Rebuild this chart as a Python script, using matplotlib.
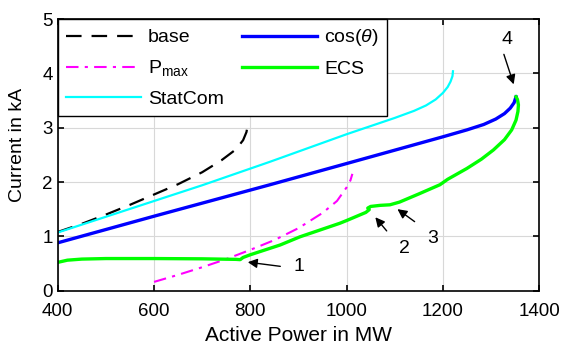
import numpy as np
import matplotlib
matplotlib.use("Agg")
import matplotlib.pyplot as plt

plt.rcParams['font.family'] = ['Liberation Sans', 'DejaVu Sans']
plt.rcParams['mathtext.fontset'] = 'custom'
plt.rcParams['mathtext.rm'] = 'Liberation Sans'
plt.rcParams['mathtext.it'] = 'Liberation Sans:italic'

# curves (P in MW, I in kA)
base_p = [400, 450, 500, 550, 600, 650, 700, 740, 770, 785, 792, 794, 793, 791]
base_i = [1.08, 1.23, 1.40, 1.58, 1.77, 1.96, 2.18, 2.40, 2.60, 2.77, 2.92, 3.02, 3.08, 3.12]

pmax_p = [600, 650, 700, 750, 800, 850, 900, 950, 980, 1000, 1008, 1012]
pmax_i = [0.16, 0.29, 0.43, 0.58, 0.75, 0.93, 1.15, 1.43, 1.65, 1.90, 2.03, 2.15]

stat_p = [400, 500, 600, 700, 840, 1000, 1100, 1140, 1165, 1185, 1200, 1210, 1216, 1220, 1221]
stat_i = [1.07, 1.36, 1.65, 1.94, 2.37, 2.88, 3.18, 3.31, 3.41, 3.52, 3.64, 3.75, 3.85, 3.95, 4.04]

cos_p = [400, 600, 841, 1000, 1199, 1250, 1285, 1310, 1328, 1340, 1348, 1352]
cos_i = [0.88, 1.37, 1.95, 2.34, 2.83, 2.96, 3.06, 3.16, 3.26, 3.36, 3.46, 3.57]

ecs_p = [400, 420, 450, 500, 600, 700, 770, 779, 785, 800, 862, 903, 986, 1000, 1040, 1047,
         1044, 1050, 1070, 1090, 1110, 1150, 1194, 1210, 1250, 1280, 1305, 1328, 1343, 1352,
         1356, 1357, 1355, 1352]
ecs_i = [0.52, 0.56, 0.58, 0.59, 0.59, 0.585, 0.575, 0.57, 0.61, 0.66, 0.84, 0.99, 1.24, 1.29,
         1.44, 1.49, 1.52, 1.55, 1.57, 1.58, 1.63, 1.78, 1.95, 2.05, 2.25, 2.42, 2.59, 2.78, 2.96,
         3.14, 3.30, 3.42, 3.52, 3.57]

# annotations: label, text pos, arrow head, arrow tail
notes = [("1", (900, 0.44), (789, 0.53), (868, 0.44)),
         ("2", (1120, 0.78), (1056, 1.39), (1087, 1.06)),
         ("3", (1178, 0.96), (1101, 1.53), (1146, 1.24)),
         ("4", (1333, 4.63), (1349, 3.75), (1325, 4.40))]

fig = plt.figure(figsize=(5.61, 3.48), dpi=100)
ax = fig.add_axes([0.103, 0.165, 0.858, 0.780])

ax.plot(base_p, base_i, color='k', lw=1.6, dashes=(7, 4.5), label='base')
ax.plot(cos_p, cos_i, color='#0000ff', lw=2.4, label=r'cos($\theta$)')
ax.plot(pmax_p, pmax_i, color='#ff00ff', lw=1.5, dashes=(6, 3, 1.5, 3), label=r'P$_{\rm max}$')
ax.plot(ecs_p, ecs_i, color='#00ff00', lw=2.4, label='ECS')
ax.plot(stat_p, stat_i, color='#00ffff', lw=1.6, label='StatCom')

for lab, tpos, head, tail in notes:
    ax.annotate('', xy=head, xytext=tail,
                arrowprops=dict(arrowstyle='-|>', color='k', lw=1.0, mutation_scale=14))
    ax.text(tpos[0], tpos[1], lab, fontsize=14, ha='center', va='center')

ax.set_xlim(400, 1400)
ax.set_ylim(0, 5)
ax.set_xticks([400, 600, 800, 1000, 1200, 1400])
ax.set_yticks([0, 1, 2, 3, 4, 5])
ax.grid(True, color='#d8d8d8', lw=0.8)
ax.tick_params(direction='in', top=True, right=True, labelsize=13.5, length=4, width=1.2)
ax.tick_params(axis='x', pad=9)
ax.tick_params(axis='y', pad=3.5)
for s in ax.spines.values():
    s.set_linewidth(1.2)
ax.set_xlabel('Active Power in MW', fontsize=15, labelpad=4)
ax.set_ylabel('Current in kA', fontsize=14)
ax.yaxis.set_label_coords(-0.066, 0.535)

h, l = ax.get_legend_handles_labels()
order = [0, 2, 4, 1, 3]
leg = ax.legend([h[i] for i in order], [l[i] for i in order], ncol=2, loc='upper left',
                fontsize=14, handlelength=3.85, borderaxespad=0, fancybox=False,
                edgecolor='k', framealpha=1, labelspacing=0.62, columnspacing=0.95,
                handletextpad=0.36, borderpad=0.42)
leg.get_frame().set_linewidth(1.0)

fig.savefig('out.png', dpi=100)
